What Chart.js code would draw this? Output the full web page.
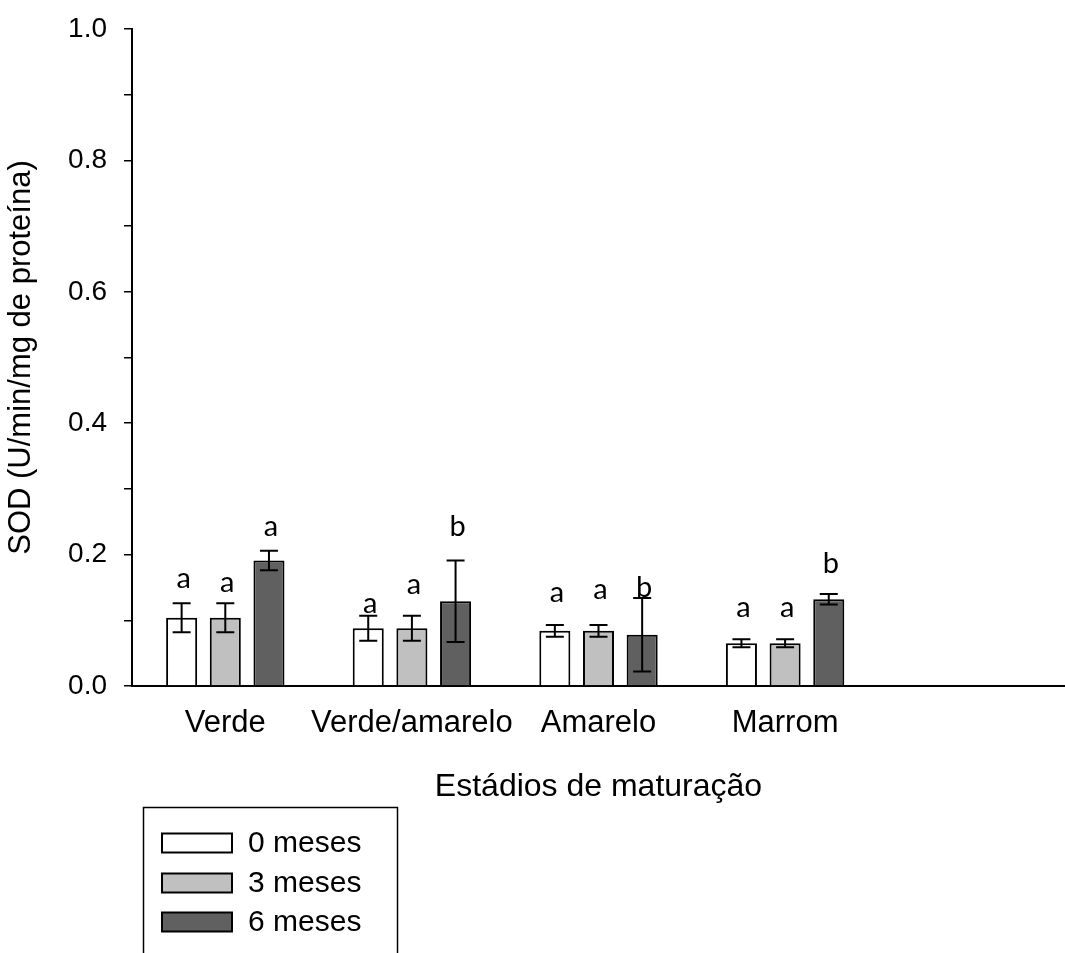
<!DOCTYPE html>
<html>
<head>
<meta charset="utf-8">
<script src="https://cdn.jsdelivr.net/npm/chart.js@4/dist/chart.umd.min.js"></script>
<style>
  html, body { margin: 0; padding: 0; background: #fff; }
  #wrap { width: 1065px; height: 953px; position: relative; }
</style>
</head>
<body>
<div id="wrap"><canvas id="c" width="1065" height="953"></canvas></div>
<script>
// ---- data ----
const categories = ["Verde", "Verde/amarelo", "Amarelo", "Marrom", ""];
const seriesNames = ["0 meses", "3 meses", "6 meses"];
const mean0 = [0.104, 0.088, 0.084, 0.065, null];
const mean3 = [0.104, 0.088, 0.084, 0.065, null];
const mean6 = [0.191, 0.129, 0.078, 0.132, null];
const err0 = [0.022, 0.019, 0.009, 0.006, null];
const err3 = [0.022, 0.019, 0.009, 0.006, null];
const err6 = [0.015, 0.062, 0.056, 0.008, null];
const letters0 = ["a", "a", "a", "a", null];
const letters3 = ["a", "a", "a", "a", null];
const letters6 = ["a", "b", "b", "b", null];
const letterY0 = [0.164, 0.126, 0.142, 0.119, null];
const letterY3 = [0.157, 0.154, 0.146, 0.119, null];
const letterY6 = [0.242, 0.242, 0.149, 0.187, null];
const yTickValues = [0, 0.2, 0.4, 0.6, 0.8, 1.0];

const fills = ["#ffffff", "#c0c0c0", "#606060"];
const means = [mean0, mean3, mean6];
const errs = [err0, err3, err6];
const letters = [letters0, letters3, letters6];
const letterYs = [letterY0, letterY3, letterY6];

const SANS = "'Liberation Sans', Arial, sans-serif";

const errorBarPlugin = {
  id: 'errorBars',
  afterDatasetsDraw(chart) {
    const ctx = chart.ctx;
    const y = chart.scales.y;
    ctx.save();
    ctx.strokeStyle = '#000';
    ctx.lineWidth = 2;
    chart.data.datasets.forEach((ds, di) => {
      const meta = chart.getDatasetMeta(di);
      meta.data.forEach((bar, i) => {
        const m = means[di][i], e = errs[di][i];
        if (m == null || e == null) return;
        const x = bar.x;
        const yt = y.getPixelForValue(m + e);
        const yb = y.getPixelForValue(m - e);
        const hw = 9;
        ctx.beginPath();
        ctx.moveTo(x, yt); ctx.lineTo(x, yb);
        ctx.moveTo(x - hw, yt); ctx.lineTo(x + hw, yt);
        ctx.moveTo(x - hw, yb); ctx.lineTo(x + hw, yb);
        ctx.stroke();
      });
    });
    // letters
    ctx.fillStyle = '#000';
    ctx.font = "29px Lato, 'Open Sans', sans-serif";
    ctx.textAlign = 'center';
    ctx.textBaseline = 'middle';
    chart.data.datasets.forEach((ds, di) => {
      const meta = chart.getDatasetMeta(di);
      meta.data.forEach((bar, i) => {
        const t = letters[di][i], ly = letterYs[di][i];
        if (!t || ly == null) return;
        ctx.fillText(t, bar.x + 2, y.getPixelForValue(ly));
      });
    });
    ctx.restore();
  }
};

const legendPlugin = {
  id: 'boxLegend',
  afterDraw(chart) {
    const ctx = chart.ctx;
    ctx.save();
    ctx.strokeStyle = '#000';
    ctx.lineWidth = 1.5;
    ctx.strokeRect(143.5, 807.5, 254, 170);
    const rows = [843, 883, 922];
    ctx.font = "30px " + SANS;
    ctx.textAlign = 'left';
    ctx.textBaseline = 'middle';
    chart.data.datasets.forEach((ds, di) => {
      const cy = rows[di];
      ctx.fillStyle = ds.backgroundColor;
      ctx.fillRect(162, cy - 9.5, 70, 19);
      ctx.lineWidth = 2;
      ctx.strokeRect(162, cy - 9.5, 70, 19);
      ctx.fillStyle = '#000';
      ctx.fillText(ds.label, 248, cy + 1);
    });
    ctx.restore();
  }
};

new Chart(document.getElementById('c'), {
  type: 'bar',
  data: {
    labels: categories,
    datasets: seriesNames.map((n, i) => ({
      label: n,
      data: means[i],
      backgroundColor: fills[i],
      borderColor: '#000',
      borderWidth: 2,
      categoryPercentage: 0.702,
      barPercentage: 0.711
    }))
  },
  options: {
    responsive: false,
    animation: false,
    devicePixelRatio: 1,
    layout: { padding: { top: 29, right: -7, left: 0, bottom: 0 } },
    plugins: { legend: { display: false }, tooltip: { enabled: false } },
    scales: {
      x: {
        grid: { display: false, drawTicks: false },
        border: { display: true, color: '#000', width: 2 },
        ticks: { color: '#000', font: { family: SANS, size: 31 }, padding: 19, maxRotation: 0, autoSkip: false },
        title: { display: true, text: 'Estádios de maturação', color: '#000',
                 font: { family: SANS, size: 32 }, padding: { top: 0, bottom: 147 } },
        afterFit(scale) { scale.height = 267; }
      },
      y: {
        min: 0, max: 1.0,
        ticks: {
          stepSize: 0.1, color: '#000', font: { family: SANS, size: 28, lineHeight: 0.8 }, padding: 17,
          callback: (v) => {
            const hit = yTickValues.find(t => Math.abs(t - v) < 1e-6);
            return hit === undefined ? '' : hit.toFixed(1);
          }
        },
        grid: { drawOnChartArea: false, drawTicks: true, tickLength: 8, color: '#000', lineWidth: 1.5 },
        border: { display: true, color: '#000', width: 2 },
        title: { display: true, text: 'SOD (U/min/mg de proteína)', color: '#000',
                 font: { family: SANS, size: 31 }, padding: { top: 3, bottom: 0 } },
        afterFit(scale) { scale.width = 132; }
      }
    }
  },
  plugins: [errorBarPlugin, legendPlugin]
});
</script>
</body>
</html>
